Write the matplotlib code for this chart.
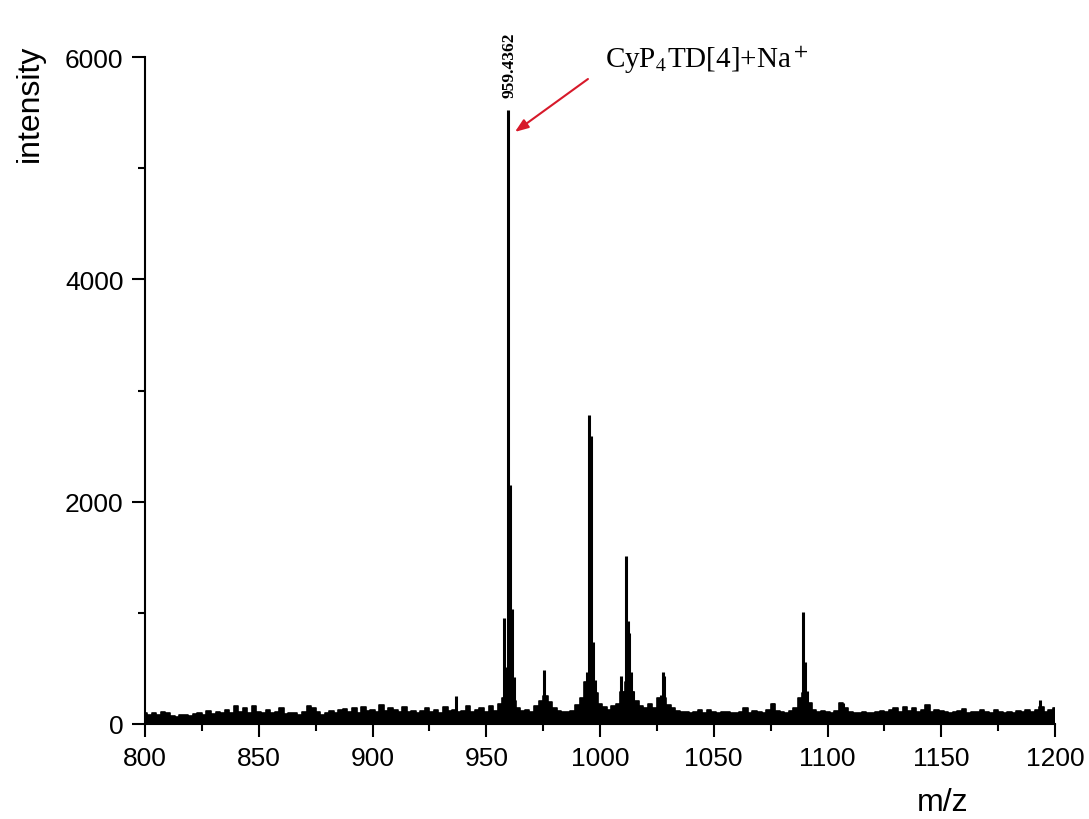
import numpy as np
import matplotlib
matplotlib.use("Agg")
import matplotlib.pyplot as plt
from matplotlib.ticker import MultipleLocator

# ---------------- data ----------------
# baseline noise envelope, sampled every 2 m/z units from 800 to 1200
base_mz = list(range(800, 1201, 2))
base_int = [
    95, 85, 100, 80, 105, 95, 75, 65, 85, 80,          # 800-818
    70, 90, 95, 80, 115, 90, 110, 95, 125, 100,        # 820-838
    165, 105, 140, 95, 160, 110, 100, 130, 95, 105,    # 840-858
    145, 90, 100, 95, 85, 110, 160, 140, 105, 85,      # 860-878
    100, 115, 95, 125, 135, 110, 140, 100, 150, 120,   # 880-898
    130, 110, 170, 120, 140, 125, 110, 150, 105, 120,  # 900-918
    95, 115, 140, 105, 125, 100, 150, 120, 130, 105,   # 920-938
    120, 160, 105, 125, 140, 110, 160, 120, 180, 230,  # 940-958
    290, 210, 140, 115, 130, 110, 160, 210, 250, 200,  # 960-978
    140, 120, 110, 105, 120, 170, 230, 380, 430, 280,  # 980-998
    180, 150, 130, 160, 180, 290, 380, 290, 210, 160,  # 1000-1018
    140, 180, 140, 230, 230, 170, 140, 120, 110, 105,  # 1020-1038
    100, 105, 130, 100, 125, 105, 95, 110, 105, 95,    # 1040-1058
    100, 105, 140, 95, 120, 105, 100, 125, 180, 120,   # 1060-1078
    105, 100, 120, 140, 230, 280, 190, 130, 110, 120,  # 1080-1098
    105, 95, 120, 190, 140, 105, 100, 95, 105, 100,    # 1100-1118
    95, 105, 120, 110, 130, 140, 110, 150, 120, 140,   # 1120-1138
    110, 125, 170, 105, 130, 120, 110, 100, 105, 120,  # 1140-1158
    135, 100, 110, 105, 130, 110, 100, 125, 105, 95,   # 1160-1178
    110, 100, 120, 105, 125, 110, 130, 150, 105, 125,  # 1180-1198
    140,                                               # 1200
]

# discrete peaks (m/z, intensity)
peak_mz = [936.5, 957.8, 958.5, 959.4, 960.4, 961.3, 962.2, 975.2,
           993.4, 994.4, 995.3, 996.2, 997.0, 997.8,
           1009.3, 1010.2, 1011.4, 1012.3, 1012.9, 1013.6, 1014.4,
           1026.8, 1027.5, 1028.2, 1076.0,
           1089.2, 1090.1, 1091.0, 1107.0, 1193.5]
peak_int = [250, 950, 510, 5520, 2150, 1030, 420, 490,
            360, 470, 2780, 2590, 740, 400,
            430, 300, 1510, 930, 820, 470, 300,
            260, 470, 430, 190,
            1010, 560, 300, 190, 220]

annot_mz = 959.4362
annot_label = "959.4362"
species_label = r"CyP$_4$TD[4]+Na$^+$"

x_ticks = [800, 850, 900, 950, 1000, 1050, 1100, 1150, 1200]
y_ticks = [0, 2000, 4000, 6000]

# ---------------- figure ----------------
plt.rcParams['font.family'] = ['Liberation Sans', 'DejaVu Sans']
plt.rcParams['mathtext.fontset'] = 'stix'

fig = plt.figure(figsize=(10.89, 8.2), dpi=100)
ax = fig.add_axes([145/1089, 1-725/820, (1055-145)/1089, (725-58)/820])

ax.fill_between(base_mz, 0, base_int, step='mid', color='black', lw=0)
ax.plot(base_mz, base_int, drawstyle='steps-mid', color='black', lw=1.2)
ax.vlines(peak_mz, 0, peak_int, color='black', lw=2.2)

ax.set_xlim(800, 1200)
ax.set_ylim(0, 6000)
ax.set_xticks(x_ticks)
ax.set_yticks(y_ticks)
ax.xaxis.set_minor_locator(MultipleLocator(25))
ax.yaxis.set_minor_locator(MultipleLocator(1000))

for s in ['top', 'right']:
    ax.spines[s].set_visible(False)
for s in ['left', 'bottom']:
    ax.spines[s].set_linewidth(1.5)

ax.tick_params(which='major', direction='out', length=9.5, width=1.5,
               labelsize=19, pad=6)
ax.tick_params(which='minor', direction='out', length=5, width=1.5)

fig.text(30/1089, 1-103/820, 'intensity', rotation=90, fontsize=23,
         ha='center', va='center')
fig.text(943/1089, 1-803/820, 'm/z', fontsize=23, ha='center', va='center')

ax.text(annot_mz + 0.6, 5640, annot_label, rotation=90, ha='center',
        va='bottom', fontsize=12.5, family='Liberation Serif', fontweight='bold')

ax.text(1002.2, 5910, species_label, ha='left', va='baseline', fontsize=21,
        family='Liberation Serif')

ax.annotate('', xy=(962.6, 5326), xytext=(994.7, 5802),
            arrowprops=dict(arrowstyle='-|>,head_length=0.8,head_width=0.3',
                            color='#d7192a', lw=1.5, shrinkA=0, shrinkB=0))

fig.savefig('out.png', dpi=100, facecolor='white')
